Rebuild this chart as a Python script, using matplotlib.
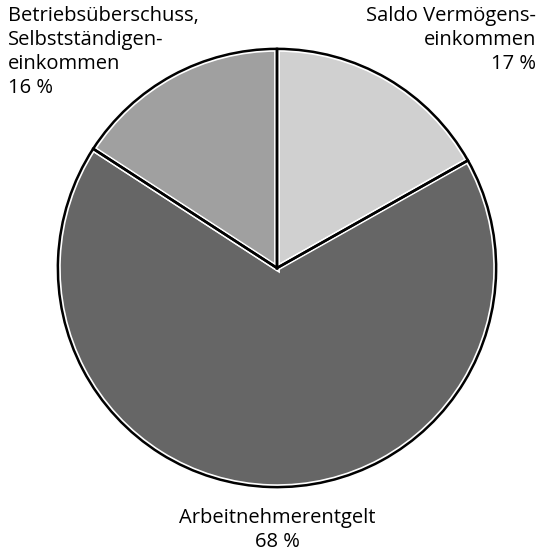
import matplotlib.pyplot as plt

plt.rcParams['font.family'] = ['Open Sans', 'DejaVu Sans']

# shares in percent, clockwise from 12 o'clock
labels = ['Saldo Vermögens-\neinkommen', 'Arbeitnehmerentgelt', 'Betriebsüberschuss,\nSelbstständigen-\neinkommen']
shares = [17, 68, 16]
colors = ['#d0d0d0', '#666666', '#a0a0a0']

W, H = 544, 551
fig = plt.figure(figsize=(W / 100, H / 100), dpi=100)

# pie centre (277, 268) px, radius 220 px
cx, cy, r = 277, 268, 220
ax = fig.add_axes([(cx - r) / W, (H - cy - r) / H, 2 * r / W, 2 * r / H])

# wide white edges first, thin black edges on top
ax.pie(shares, colors=colors, startangle=90, counterclock=False,
       wedgeprops=dict(edgecolor='white', linewidth=4.2))
ax.pie(shares, colors=['none'] * 3, startangle=90, counterclock=False,
       wedgeprops=dict(edgecolor='black', linewidth=1.8))
ax.set_xlim(-1.004, 1.004)
ax.set_ylim(-1.004, 1.004)
ax.set_aspect('equal')
ax.axis('off')

fs = 14.5
ls = 1.27
fig.text(8 / W, 1 - 6 / H, f'{labels[2]}\n{shares[2]} %', ha='left', va='top',
         fontsize=fs, linespacing=ls)
fig.text(536 / W, 1 - 6 / H, f'{labels[0]}\n{shares[0]} %', ha='right', va='top',
         fontsize=fs, linespacing=ls, multialignment='right')
fig.text(cx / W, 1 - 508 / H, f'{labels[1]}\n{shares[1]} %', ha='center', va='top',
         fontsize=fs, linespacing=ls, multialignment='center')

fig.savefig('out.png', dpi=100)
